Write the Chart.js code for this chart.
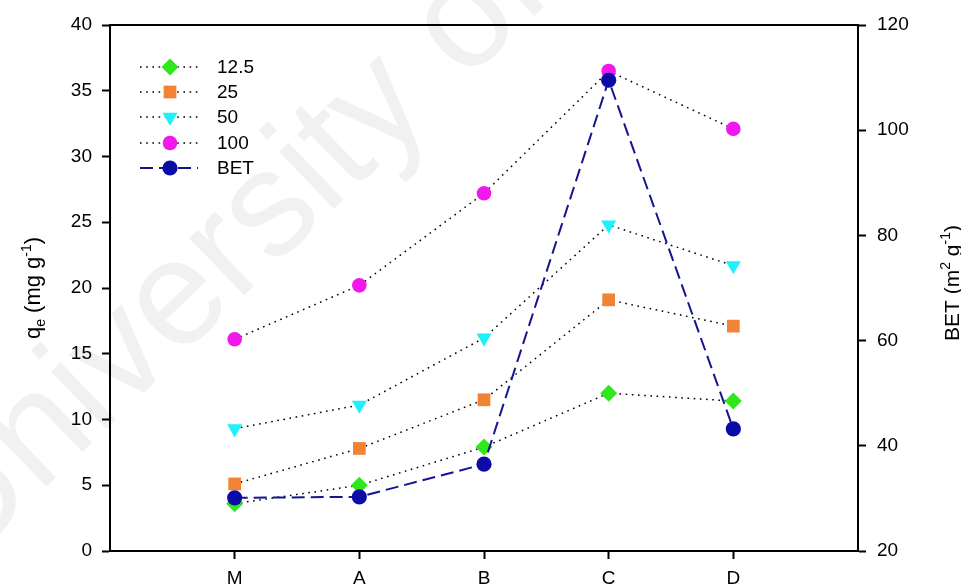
<!DOCTYPE html>
<html>
<head>
<meta charset="utf-8">
<script src="https://cdn.jsdelivr.net/npm/chart.js@4/dist/chart.umd.min.js"></script>
<style>
  html, body { margin: 0; padding: 0; background: #fff; }
  #wrap { width: 961px; height: 588px; }
</style>
</head>
<body>
<div id="wrap"><canvas id="c" width="961" height="588"></canvas></div>
<script>
// ---- data ----
const categories = ['M', 'A', 'B', 'C', 'D'];
const q12_5 = [3.6, 5.0, 7.9, 12.0, 11.4];
const q25   = [5.1, 7.8, 11.5, 19.1, 17.1];
const q50   = [9.3, 11.1, 16.2, 24.8, 21.7];
const q100  = [16.1, 20.2, 27.2, 36.5, 32.1];
const bet   = [30.1, 30.3, 36.5, 109.5, 43.2];
const seriesLabels = ['12.5', '25', '50', '100', 'BET'];
const leftTicks = [0, 5, 10, 15, 20, 25, 30, 35, 40];
const rightTicks = [20, 40, 60, 80, 100, 120];

const FONT = "'Liberation Sans', Arial, sans-serif";
const toXY = arr => arr.map((v, i) => ({ x: i + 1, y: v }));

const dotted = { borderColor: '#000', borderWidth: 1.5, borderDash: [1.6, 4.6] };

const datasets = [
  Object.assign({ label: seriesLabels[0], data: toXY(q12_5), yAxisID: 'y', order: 4,
    pointStyle: 'rectRot', pointRadius: 8.5, backgroundColor: '#2fe81c', pointBorderColor: '#2fe81c', pointBorderWidth: 0 }, dotted),
  Object.assign({ label: seriesLabels[1], data: toXY(q25), yAxisID: 'y', order: 3,
    pointStyle: 'rect', pointRadius: 9, backgroundColor: '#f28234', pointBorderColor: '#f28234', pointBorderWidth: 0 }, dotted),
  Object.assign({ label: seriesLabels[2], data: toXY(q50), yAxisID: 'y', order: 2,
    pointStyle: 'triangle', pointRotation: 180, pointRadius: 8.7, backgroundColor: '#1ef0fc', pointBorderColor: '#1ef0fc', pointBorderWidth: 0 }, dotted),
  Object.assign({ label: seriesLabels[3], data: toXY(q100), yAxisID: 'y', order: 1,
    pointStyle: 'circle', pointRadius: 7.3, backgroundColor: '#f018ec', pointBorderColor: '#f018ec', pointBorderWidth: 0 }, dotted),
  { label: seriesLabels[4], data: toXY(bet), yAxisID: 'y1', order: 0,
    borderColor: '#15158f', borderWidth: 2, borderDash: [13, 6],
    pointStyle: 'circle', pointRadius: 7.6, backgroundColor: '#0b0ba6', pointBorderColor: '#0b0ba6', pointBorderWidth: 0 }
];
datasets.forEach(d => { d.showLine = true; d.tension = 0; d.fill = false; d.clip = false; });

function drawRich(ctx, segs, cx, cy, size, small) {
  let total = 0;
  segs.forEach(s => {
    ctx.font = (s.sub || s.sup ? small : size) + 'px ' + FONT;
    s.w = ctx.measureText(s.t).width;
    total += s.w;
  });
  let x = cx - total / 2;
  segs.forEach(s => {
    ctx.font = (s.sub || s.sup ? small : size) + 'px ' + FONT;
    let dy = 0;
    if (s.sub) dy = 5;
    if (s.sup) dy = -9;
    ctx.fillText(s.t, x, cy + dy);
    x += s.w;
  });
}

const decor = {
  id: 'decor',
  beforeDraw(chart) {
    const ctx = chart.ctx;
    ctx.save();
    ctx.fillStyle = '#fff';
    ctx.fillRect(0, 0, chart.width, chart.height);
    // faint watermark
    ctx.translate(-39, 569);
    ctx.rotate(-44 * Math.PI / 180);
    ctx.font = '150px ' + FONT;
    ctx.fillStyle = '#f1f1f1';
    ctx.textBaseline = 'alphabetic';
    ctx.fillText('University of', 0, 0);
    ctx.restore();
  },
  afterDraw(chart) {
    const ctx = chart.ctx;
    const a = chart.chartArea;
    ctx.save();
    // top frame line
    ctx.strokeStyle = '#000';
    ctx.lineWidth = 2;
    ctx.beginPath();
    ctx.moveTo(a.left - 1, a.top);
    ctx.lineTo(a.right + 1, a.top);
    ctx.stroke();

    // axis titles
    ctx.fillStyle = '#000';
    ctx.textBaseline = 'alphabetic';
    ctx.save();
    ctx.translate(40, 288);
    ctx.rotate(-Math.PI / 2);
    drawRich(ctx, [{ t: 'q' }, { t: 'e', sub: true }, { t: ' (mg g' }, { t: '-1', sup: true }, { t: ')' }], 0, 0, 22, 14);
    ctx.restore();
    ctx.save();
    ctx.translate(959, 283);
    ctx.rotate(-Math.PI / 2);
    drawRich(ctx, [{ t: 'BET (m' }, { t: '2', sup: true }, { t: ' g' }, { t: '-1', sup: true }, { t: ')' }], 0, 0, 21, 14);
    ctx.restore();

    // legend
    const rows = [67, 92, 117, 143, 168];
    chart.data.datasets.forEach((ds, i) => {
      const y = rows[i];
      ctx.save();
      ctx.strokeStyle = ds.borderColor;
      ctx.lineWidth = ds.borderWidth;
      ctx.setLineDash(ds.borderDash || []);
      ctx.beginPath();
      ctx.moveTo(140, y);
      ctx.lineTo(198, y);
      ctx.stroke();
      ctx.setLineDash([]);
      ctx.fillStyle = ds.backgroundColor;
      ctx.strokeStyle = ds.backgroundColor;
      if (Chart.helpers && Chart.helpers.drawPoint) {
        Chart.helpers.drawPoint(ctx, {
          pointStyle: ds.pointStyle, rotation: ds.pointRotation || 0,
          radius: ds.pointRadius, borderWidth: 0
        }, 170, y);
      } else {
        ctx.beginPath(); ctx.arc(170, y, ds.pointRadius, 0, Math.PI * 2); ctx.fill();
      }
      ctx.fillStyle = '#000';
      ctx.font = '19px ' + FONT;
      ctx.textBaseline = 'middle';
      ctx.textAlign = 'left';
      ctx.fillText(ds.label, 217, y + 1);
      ctx.restore();
    });
    ctx.restore();
  }
};

new Chart(document.getElementById('c'), {
  type: 'line',
  data: { datasets },
  options: {
    responsive: false,
    animation: false,
    events: [],
    layout: { padding: { top: 25, left: 0, right: 0, bottom: 0 } },
    plugins: { legend: { display: false }, tooltip: { enabled: false } },
    scales: {
      x: {
        type: 'linear', position: 'bottom', min: 0, max: 6,
        afterBuildTicks: s => { s.ticks = categories.map((c, i) => ({ value: i + 1 })); },
        afterFit: s => { s.height = 37; },
        ticks: {
          autoSkip: false, maxRotation: 0, color: '#000', padding: 8,
          font: { family: FONT, size: 19 },
          callback: v => categories[v - 1] || ''
        },
        grid: { drawOnChartArea: false, drawTicks: true, tickLength: 8, tickWidth: 2, color: '#000' },
        border: { display: true, color: '#000', width: 2 }
      },
      y: {
        type: 'linear', position: 'left', min: 0, max: 40,
        afterBuildTicks: s => { s.ticks = leftTicks.map(v => ({ value: v })); },
        afterFit: s => { s.width = 110; },
        ticks: { color: '#000', padding: 10, font: { family: FONT, size: 19 } },
        grid: { drawOnChartArea: false, drawTicks: true, tickLength: 8, tickWidth: 2, color: '#000' },
        border: { display: true, color: '#000', width: 2 }
      },
      y1: {
        type: 'linear', position: 'right', min: 20, max: 120,
        afterBuildTicks: s => { s.ticks = rightTicks.map(v => ({ value: v })); },
        afterFit: s => { s.width = 103; },
        ticks: { color: '#000', padding: 11, font: { family: FONT, size: 19 } },
        grid: { drawOnChartArea: false, drawTicks: true, tickLength: 8, tickWidth: 2, color: '#000' },
        border: { display: true, color: '#000', width: 2 }
      }
    }
  },
  plugins: [decor]
});
</script>
</body>
</html>
